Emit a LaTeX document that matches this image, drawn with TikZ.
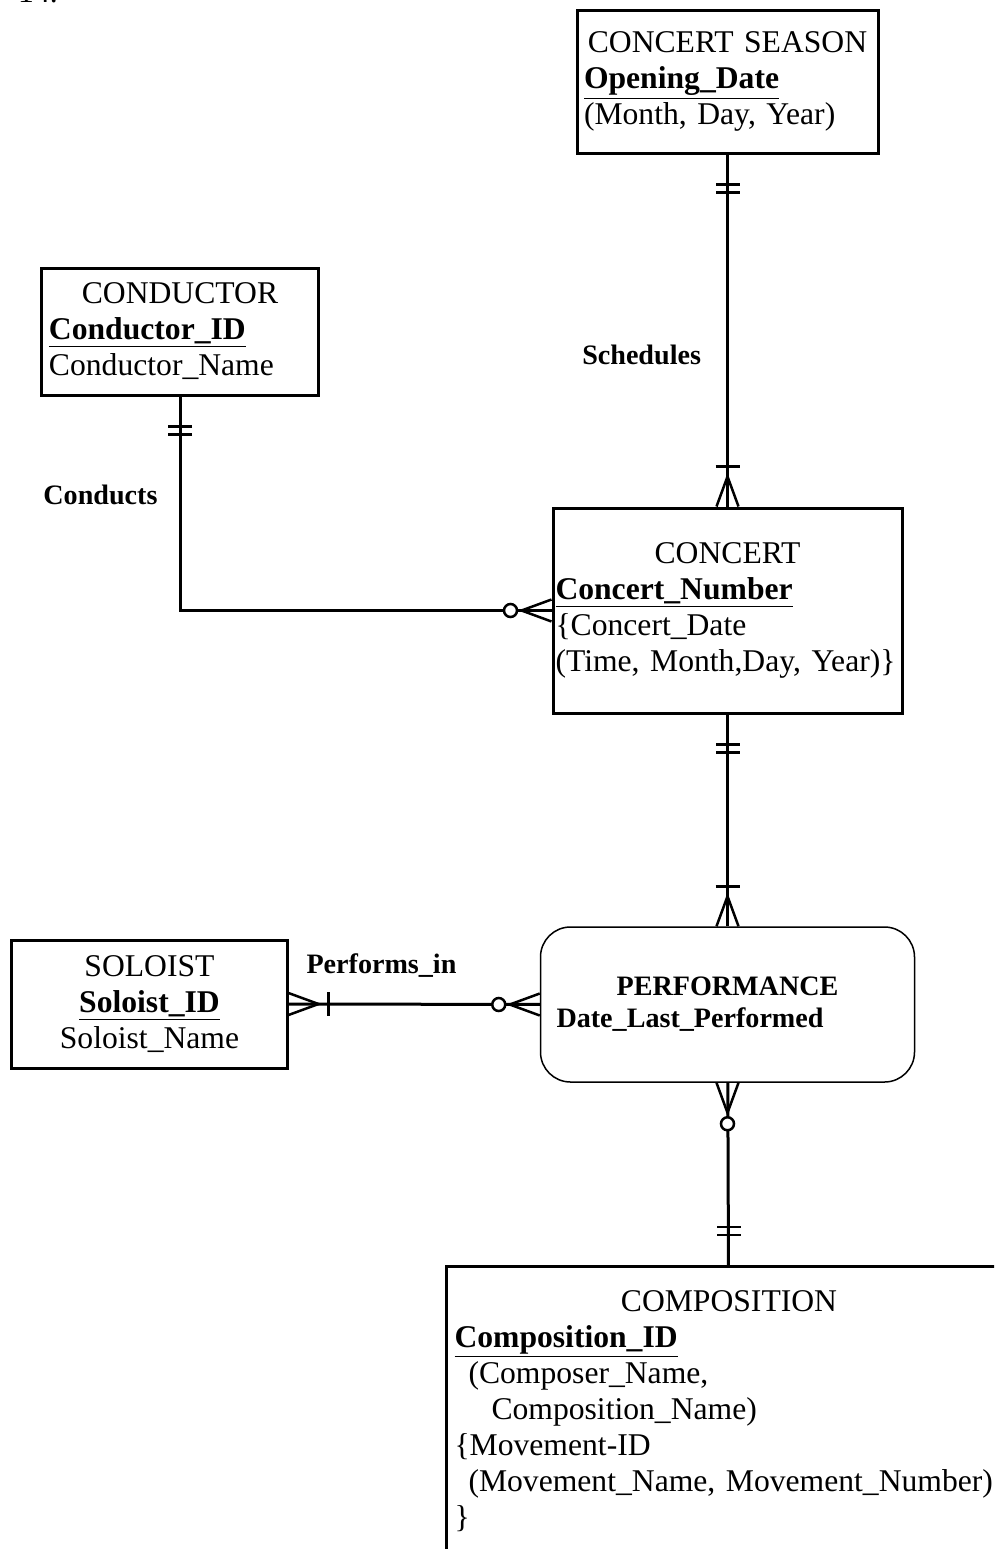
\documentclass[tikz,border=0pt]{standalone}
\usepackage{fontspec}
\setmainfont{Liberation Serif}
\usetikzlibrary{positioning,calc}
\newcommand{\entname}[1]{\makebox[\linewidth][c]{#1}}
\newcommand{\keyattr}[1]{\underline{\textbf{#1}}}

\begin{document}
\begin{tikzpicture}[x=0.2mm,y=-0.2mm,
entity/.style={draw,line width=0.6mm,align=left,inner xsep=1.4mm,inner ysep=0pt,font=\fontsize{18pt}{20.5pt}\selectfont},
assoc/.style={draw,line width=0.3mm,rounded corners=6mm,align=left,inner xsep=3.2mm,inner ysep=0pt,font=\fontsize{16pt}{18.2pt}\selectfont\bfseries},
rel/.style={font=\fontsize{16pt}{19pt}\selectfont\bfseries,inner sep=0pt},
link/.style={line width=0.6mm},
barline/.style={line width=0.5mm},
footline/.style={line width=0.5mm},
pics/onlyone/.style={code={\draw[barline] (30,-12) -- (30,12); \draw[barline] (38,-12) -- (38,12);}},
pics/onemany/.style={code={\draw[footline] (0,-11) -- (30,0) -- (0,11); \draw[barline] (40,-12) -- (40,12);}},
pics/zeromany/.style={code={\draw[footline] (0,-11) -- (30,0) -- (0,11); \draw[barline,fill=white] (41,0) circle (6.5);}}]
\useasboundingbox (0,0) rectangle (994,1549);
\clip (0,0) rectangle (994,1549);
\fill[white] (0,0) rectangle (994,1549);
\node[anchor=base west,font=\fontsize{18pt}{20pt}\selectfont] (qnum) at (12,2) {14.};
% entities
\node[entity,text width=57.4mm,minimum height=28.6mm] (season) at (727.5,81.5) {\entname{CONCERT SEASON}\\ \keyattr{Opening\_Date}\\ (Month, Day, Year)};
\node[entity,text width=52.4mm,minimum height=25.4mm] (conductor) at (180,331.5) {\entname{CONDUCTOR}\\ \keyattr{Conductor\_ID}\\ Conductor\_Name};
\node[entity,text width=68.8mm,inner xsep=0.5mm,minimum height=41mm] (concert) at (727.5,610.5) {\entname{CONCERT}\\ \keyattr{Concert\_Number}\\ \{Concert\_Date\\ (Time, Month,Day, Year)\}};
\node[entity,align=center,text width=52.2mm,minimum height=25.6mm] (soloist) at (149.5,1004) {SOLOIST\\ \keyattr{Soloist\_ID}\\ Soloist\_Name};
\node[assoc,text width=68.4mm,minimum height=31mm] (perf) at (727.5,1004.5) {\entname{PERFORMANCE}\\ Date\_Last\_Performed};
\node[entity,anchor=north west,inner xsep=1.6mm,text width=109.8mm,minimum height=57.8mm] (comp) at (445,1265) {\entname{COMPOSITION}\\ \keyattr{Composition\_ID}\\ \hspace*{2.8mm}(Composer\_Name,\\ \hspace*{7.4mm}Composition\_Name)\\ \{Movement-ID\\ \hspace*{2.8mm}(Movement\_Name, Movement\_Number)\\ \}};
% relationships
\draw[link] (season) -- node[rel,left=5mm,pos=0.57] (schedlbl) {Schedules} (concert);
\draw[link] (conductor.south) |- node[rel,left=4.2mm,pos=0.23] (condlbl) {Conducts} (concert.west);
\draw[link] (concert) -- (perf);
\draw[link] (soloist) -- node[rel,above=5mm,pos=0.37] (perflbl) {Performs\_in} (perf);
\draw[link] (perf) -- (comp);
% cardinality marks
\pic[rotate=-90] at (season.south) {onlyone};
\pic[rotate=90] at (concert.north) {onemany};
\pic[rotate=-90] at (conductor.south) {onlyone};
\pic[rotate=180] at (concert.west) {zeromany};
\pic[rotate=-90] at (concert.south) {onlyone};
\pic[rotate=90] at (perf.north) {onemany};
\pic at (soloist.east) {onemany};
\pic[rotate=180] at (perf.west) {zeromany};
\pic[rotate=-90] at (perf.south) {zeromany};
\pic[rotate=90] at (comp.north) {onlyone};
\end{tikzpicture}
\end{document}
